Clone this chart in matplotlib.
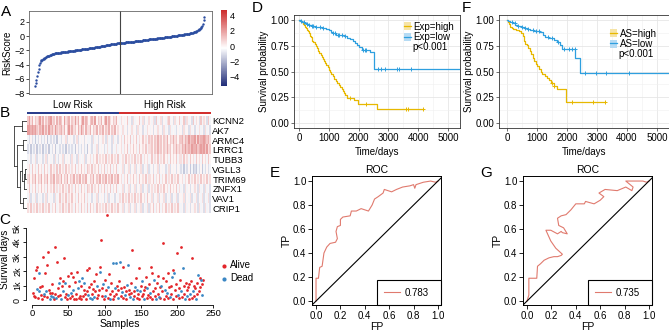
import numpy as np
import matplotlib
matplotlib.use("Agg")
import matplotlib.pyplot as plt
from matplotlib.colors import LinearSegmentedColormap, ListedColormap, Normalize
from matplotlib.cm import ScalarMappable
from matplotlib.lines import Line2D
from matplotlib.patches import Patch
from matplotlib.transforms import blended_transform_factory

plt.rcParams['font.family'] = ['Liberation Sans', 'DejaVu Sans']

W, H = 669, 332

# ---------------- data ----------------
# A: sorted risk score, one value per sample
risk_score = [
    -7.00, -6.55, -6.10, -5.55, -5.00, -4.55, -4.10, -3.80, -3.55, -3.38,
    -3.32, -3.25, -3.18, -3.11, -3.04, -2.97, -2.90, -2.85, -2.81, -2.77,
    -2.73, -2.69, -2.65, -2.61, -2.57, -2.53, -2.49, -2.45, -2.42, -2.40,
    -2.39, -2.37, -2.36, -2.35, -2.33, -2.32, -2.31, -2.29, -2.28, -2.27,
    -2.25, -2.24, -2.22, -2.21, -2.20, -2.19, -2.17, -2.16, -2.15, -2.13,
    -2.12, -2.10, -2.09, -2.07, -2.06, -2.04, -2.03, -2.01, -2.00, -1.98,
    -1.97, -1.95, -1.94, -1.92, -1.91, -1.90, -1.88, -1.87, -1.86, -1.84,
    -1.83, -1.81, -1.80, -1.78, -1.77, -1.75, -1.73, -1.72, -1.70, -1.69,
    -1.67, -1.66, -1.64, -1.63, -1.61, -1.59, -1.58, -1.56, -1.54, -1.52,
    -1.51, -1.49, -1.47, -1.45, -1.43, -1.42, -1.40, -1.38, -1.36, -1.34,
    -1.32, -1.30, -1.28, -1.26, -1.24, -1.22, -1.20, -1.18, -1.17, -1.15,
    -1.13, -1.11, -1.10, -1.08, -1.07, -1.05, -1.03, -1.02, -1.01, -1.00,
    -0.99, -0.98, -0.97, -0.96, -0.95, -0.94, -0.93, -0.92, -0.90, -0.89,
    -0.88, -0.87, -0.86, -0.85, -0.84, -0.83, -0.82, -0.81, -0.80, -0.79,
    -0.78, -0.76, -0.75, -0.74, -0.72, -0.71, -0.70, -0.68, -0.67, -0.66,
    -0.64, -0.63, -0.61, -0.60, -0.58, -0.57, -0.55, -0.54, -0.52, -0.51,
    -0.50, -0.48, -0.47, -0.46, -0.45, -0.43, -0.42, -0.41, -0.40, -0.38,
    -0.37, -0.36, -0.35, -0.33, -0.32, -0.31, -0.29, -0.28, -0.27, -0.25,
    -0.24, -0.23, -0.22, -0.20, -0.19, -0.18, -0.17, -0.15, -0.14, -0.12,
    -0.11, -0.09, -0.08, -0.06, -0.05, -0.03, -0.02, 0.00, 0.02, 0.03,
    0.05, 0.07, 0.08, 0.10, 0.12, 0.14, 0.15, 0.17, 0.18, 0.20,
    0.21, 0.23, 0.24, 0.26, 0.27, 0.29, 0.31, 0.33, 0.35, 0.37,
    0.40, 0.42, 0.45, 0.48, 0.51, 0.55, 0.58, 0.62, 0.67, 0.74,
    0.80, 0.87, 0.95, 1.02, 1.10, 1.25, 1.45, 1.75, 2.20, 2.60,
]

# B: expression levels, digit 5 = 0, higher = red, lower = blue
genes = ['KCNN2', 'AK7', 'ARMC4', 'LRRC1', 'TUBB3',
         'VGLL3', 'TRIM69', 'ZNFX1', 'VAV1', 'CRIP1']
heat_rows = [
    "79685767968576896758" "68759678576968579687" "57869576857968657685"
    "46545745364557463546" "54637456354674536457" "45736453746537465374",
    "99898976879686978697" "67868579686758697586" "68576857685768576856"
    "54645354645364535465" "45354645364536454354" "53645364535464536453",
    "43534243534352435342" "54354635453463545354" "45364535465364536453"
    "56475657465746575647" "67576867576857686757" "78687978896978898786",
    "34243524352435243524" "43534253434253435342" "54354635453464535464"
    "56465746575647565746" "67576867576867576867" "68797879889789897967",
    "45354635453463545364" "35463545364536454635" "56465746565746575647"
    "45647564657465746564" "57465746575647565746" "64756475647564756475",
    "56475647564756475647" "47564756465746575647" "65746574657465746574"
    "54635463546354635463" "45354635453463545354" "34243524232435243534",
    "67576857685768576857" "76857685768576857685" "57685768576857685768"
    "56465746575647565746" "65746574657465746574" "56465746575647565746",
    "57465746575647565746" "46575647564756475647" "65746574657465746574"
    "54635463546354635463" "56465746575647565746" "45364535465364536453",
    "46354635453463545364" "57465746575647565746" "45354635453463545354"
    "64756475647564756475" "46354635463546354635" "54635463546354635463",
    "65746574657465746574" "56475647564756475647" "47564756465746575647"
    "54635463546354635463" "65746574657465746574" "45364535465364536453",
]
# dendrogram merges: (child a, child b, height); leaves 0..9, new nodes 10..
merges = [(0, 1, 0.35), (2, 3, 0.30), (5, 6, 0.15), (12, 7, 0.25),
          (8, 9, 0.30), (4, 13, 0.40), (15, 14, 0.55), (11, 16, 0.75),
          (10, 17, 1.00)]

# C: survival days and status per sample (A = alive, D = dead)
surv_days = [
    460, 1500, 300, 200, 2080, 740, 2300, 150, 1900, 620, 880, 350, 100, 970, 3000, 420, 250, 1900, 600, 2430,
    180, 3360, 700, 90, 520, 300, 1100, 480, 220, 60, 3700, 400, 150, 2660, 800, 280, 1200, 330, 1500, 70,
    980, 600, 1300, 2900, 200, 1150, 450, 80, 1700, 350, 1000, 120, 1900, 520, 250, 1600, 700, 90, 1250, 420,
    60, 1970, 800, 150, 1350, 300, 1000, 60, 1500, 250, 700, 1200, 450, 100, 2100, 600, 320, 2200, 900, 150,
    1100, 400, 50, 750, 1300, 200, 600, 1800, 120, 950, 350, 700, 2300, 1970, 4170, 250, 800, 1100, 60, 1400,
    300, 700, 5900, 150, 900, 1800, 450, 100, 1200, 600, 50, 2550, 300, 850, 2550, 400, 1000, 150, 700, 1300,
    2660, 250, 800, 550, 120, 2300, 900, 350, 600, 80, 1050, 2430, 400, 700, 200, 1200, 500, 3470, 100, 650,
    300, 900, 1500, 150, 700, 450, 2200, 80, 600, 1000, 250, 1300, 400, 700, 50, 900, 1600, 150, 800, 350,
    1100, 200, 500, 2300, 1900, 100, 650, 1400, 300, 800, 60, 1200, 450, 1700, 220, 900, 150, 1000, 600, 1500,
    3940, 80, 700, 300, 1300, 500, 150, 1850, 900, 200, 1000, 400, 1600, 60, 2080, 1850, 700, 250, 1100, 3240,
    350, 800, 150, 1400, 600, 3700, 200, 2200, 1000, 450, 100, 1200, 700, 300, 900, 50, 1100, 400, 1300, 2900,
    150, 600, 1000, 250, 800, 100, 1200, 450, 1740, 650, 1500, 900, 1390, 1100, 350, 1400,
]
surv_status = (
    "AAAAADAADDAAAAADAADA" "AAADADAADAAADAAADAAD" "ADAAADAAADAAADAADAAA"
    "AADADAAADAADAAAADAAD" "AADAADAAADAAADAAADAA" "DAAADAADAAADADDAADAA"
    "DAADAAADAADDAADAAADA" "ADAADAAADAADAADAAADA" "AADAAAADAADAAADAADAA"
    "AADAADAAADAADAADAAAA" "DAAADAADAADAADAAADAA" "ADAAADAADAAADADA"
)

# D: Kaplan-Meier, expression groups
d_high_t = [0, 30, 80, 120, 170, 200, 240, 270, 300, 330, 360, 390, 420, 450, 480, 520, 560, 600,
            640, 680, 720, 760, 800, 840, 880, 920, 960, 1000, 1040, 1080, 1130, 1180, 1230, 1280,
            1330, 1380, 1430, 1470, 1510, 1550, 1600, 1830, 1990, 2630, 4150]
d_high_s = [1.0, 0.99, 0.98, 0.965, 0.95, 0.935, 0.92, 0.905, 0.89, 0.87, 0.85, 0.835, 0.82, 0.80,
            0.785, 0.765, 0.745, 0.725, 0.70, 0.68, 0.66, 0.64, 0.62, 0.60, 0.58, 0.56, 0.54, 0.515,
            0.495, 0.475, 0.455, 0.43, 0.41, 0.39, 0.37, 0.35, 0.33, 0.31, 0.29, 0.27, 0.245, 0.222,
            0.188, 0.139, 0.139]
d_high_cens = [1720, 2250, 3600, 3660, 4150]
d_low_t = [0, 50, 100, 180, 250, 330, 420, 520, 620, 760, 900, 1000, 1080, 1150, 1250, 1500, 1600,
           1700, 1800, 1880, 1950, 2020, 2100, 2380, 2520, 5350]
d_low_s = [1.0, 0.99, 0.98, 0.97, 0.96, 0.95, 0.94, 0.935, 0.93, 0.925, 0.91, 0.90, 0.885, 0.87,
           0.86, 0.85, 0.83, 0.815, 0.80, 0.78, 0.76, 0.74, 0.71, 0.69, 0.52, 0.52]
d_low_cens = [60, 150, 250, 330, 420, 480, 560, 700, 800, 1150, 1200, 1300, 1350, 1450, 1550,
              2150, 2200, 2250, 2650, 2750, 2900, 3300, 3350, 3750]

# F: Kaplan-Meier, AS groups
f_high_t = [0, 30, 60, 100, 150, 200, 300, 400, 480, 540, 560, 600, 650, 700, 760, 800, 850, 900,
            960, 1000, 1060, 1120, 1170, 1250, 1330, 1400, 1480, 1560, 1660, 1960, 3270]
f_high_s = [1.0, 0.98, 0.96, 0.935, 0.925, 0.915, 0.905, 0.89, 0.875, 0.85, 0.80, 0.77, 0.755,
            0.73, 0.70, 0.67, 0.63, 0.60, 0.57, 0.55, 0.52, 0.50, 0.48, 0.46, 0.44, 0.42, 0.39,
            0.36, 0.33, 0.20, 0.20]
f_high_cens = [1500, 1580, 2150, 2850, 3270]
f_low_t = [0, 40, 100, 200, 280, 350, 450, 550, 650, 750, 900, 1100, 1200, 1270, 1400, 1550, 1650,
           1750, 1820, 2280, 2430, 5350]
f_low_s = [1.0, 0.99, 0.98, 0.97, 0.955, 0.945, 0.935, 0.925, 0.915, 0.905, 0.895, 0.885, 0.86,
           0.84, 0.83, 0.81, 0.79, 0.76, 0.72, 0.63, 0.485, 0.485]
f_low_cens = [150, 250, 350, 500, 600, 700, 850, 950, 1050, 1350, 1500, 1700, 1900, 2050, 2150,
              2250, 2600, 2950, 3300, 4050]

# E / G: ROC curves
e_fp = [0.0, 0.0, 0.02, 0.03, 0.05, 0.065, 0.088, 0.115, 0.16, 0.175, 0.164, 0.175, 0.20, 0.20,
        0.22, 0.28, 0.29, 0.33, 0.37, 0.43, 0.46, 0.48, 0.51, 0.55, 0.56, 0.62, 0.66, 0.71, 0.77,
        0.80, 0.81, 0.82, 0.88, 0.94, 0.98, 1.0]
e_tp = [0.0, 0.19, 0.19, 0.28, 0.29, 0.40, 0.45, 0.48, 0.49, 0.52, 0.58, 0.62, 0.63, 0.68, 0.70,
        0.71, 0.75, 0.75, 0.77, 0.75, 0.80, 0.85, 0.87, 0.90, 0.93, 0.91, 0.93, 0.95, 0.96, 0.97,
        0.94, 0.97, 0.99, 1.0, 0.99, 1.0]
e_auc = 0.783
g_fp = [0.0, 0.015, 0.015, 0.04, 0.08, 0.086, 0.11, 0.14, 0.18, 0.22, 0.25, 0.28, 0.29, 0.236,
        0.195, 0.155, 0.195, 0.25, 0.28, 0.29, 0.33, 0.30, 0.26, 0.25, 0.28, 0.32, 0.36, 0.40,
        0.47, 0.48, 0.55, 0.60, 0.63, 0.59, 0.64, 0.74, 0.81, 0.86, 0.87, 0.81, 0.86, 0.95,
        0.98, 1.0]
g_tp = [0.0, 0.05, 0.19, 0.19, 0.19, 0.29, 0.31, 0.34, 0.36, 0.37, 0.37, 0.38, 0.39, 0.44, 0.50,
        0.59, 0.59, 0.56, 0.58, 0.57, 0.56, 0.61, 0.63, 0.69, 0.71, 0.72, 0.76, 0.81, 0.81, 0.83,
        0.81, 0.84, 0.87, 0.90, 0.93, 0.92, 0.95, 0.92, 0.95, 1.0, 1.0, 1.0, 0.99, 1.0]
g_auc = 0.735


# ---------------- helpers ----------------
def box(l, t, r, b):
    return [l / W, 1 - b / H, (r - l) / W, (b - t) / H]


def letter(x, y, s):
    fig.text(x / W, 1 - y / H, s, fontsize=11, ha='center', va='center')


heat_cmap = LinearSegmentedColormap.from_list('bwr_r', ['#1F2C78', '#FFFFFF', '#CC2A2A'])
heat_norm = Normalize(vmin=-5.2, vmax=4.7)
RED, BLUE = '#E3262B', '#3B87C4'
YEL, SKY = '#E7B800', '#2E9FDF'

fig = plt.figure(figsize=(W / 100, H / 100), dpi=100)

# ---------------- A: risk score ----------------
risk = np.array(risk_score)
samples = np.arange(1, len(risk) + 1)
n_low = int(np.sum(risk <= np.median(risk)))
ax = fig.add_axes(box(29, 11, 212, 94))
ax.scatter(samples, risk, s=3, color='#2B4DA0', lw=0)
ax.axvline(n_low + 0.5, color='#444444', lw=0.8)
ax.set_xlim(-7.5, 251)
ax.set_ylim(-8.1, 3.5)
ax.set_xticks([])
ax.set_yticks([-8, -6, -4, -2, 0, 2])
ax.tick_params(axis='y', labelsize=6.5, length=2, pad=1, width=0.5)
ax.set_ylabel('RiskScore', fontsize=7)
ax.yaxis.set_label_coords(-0.093, 0.5)
for sp in ax.spines.values():
    sp.set_color('#666666')
    sp.set_linewidth(0.6)
letter(6, 12, 'A')

cax = fig.add_axes(box(221, 10, 227, 86))
cb = fig.colorbar(ScalarMappable(norm=heat_norm, cmap=heat_cmap), cax=cax, ticks=[-4, -2, 0, 2, 4])
cb.outline.set_visible(False)
cax.tick_params(labelsize=6.5, length=0, pad=2)

# ---------------- B: heatmap ----------------
width = min(len(r) for r in heat_rows)
levels = np.array([[int(c) for c in r[:width]] for r in heat_rows])
expr = (levels - 5) * 0.5

axh = fig.add_axes(box(27, 116, 211, 213))
axh.imshow(expr, aspect='auto', cmap=heat_cmap, norm=heat_norm, interpolation='nearest')
axh.set_xticks([])
axh.yaxis.tick_right()
axh.set_yticks(range(len(genes)))
axh.set_yticklabels(genes, fontsize=6.8)
axh.tick_params(axis='y', length=0, pad=1)
for sp in axh.spines.values():
    sp.set_visible(False)

groups = (risk > np.median(risk)).astype(int)
axb = fig.add_axes(box(27, 111.8, 211, 114.3))
axb.imshow(groups[None, :], aspect='auto', interpolation='nearest',
           cmap=ListedColormap(['#2B3E8C', '#D3302F']))
axb.axis('off')
trb = blended_transform_factory(axb.transData, axb.transAxes)
for g, lab in [(0, 'Low Risk'), (1, 'High Risk')]:
    cx = np.mean(np.where(groups == g)[0])
    axb.text(cx, 1.6, lab, transform=trb, ha='center', va='bottom', fontsize=7)

# dendrogram
axd = fig.add_axes(box(13, 116, 27, 213))
pos = {i: (float(i), 0.0) for i in range(len(genes))}
for k, (a, b, h) in enumerate(merges):
    ya, ha = pos[a]
    yb, hb = pos[b]
    axd.plot([ha, h], [ya, ya], color='#333333', lw=0.6)
    axd.plot([hb, h], [yb, yb], color='#333333', lw=0.6)
    axd.plot([h, h], [ya, yb], color='#333333', lw=0.6)
    pos[len(genes) + k] = ((ya + yb) / 2, h)
axd.set_ylim(len(genes) - 0.5, -0.5)
axd.set_xlim(1.05, 0)
axd.axis('off')
letter(5, 113, 'B')

# ---------------- C: survival scatter ----------------
days = np.array(surv_days)
stat = np.array(list(surv_status))
idx = np.arange(1, len(days) + 1)
axc = fig.add_axes(box(26, 213, 213.7, 305))
for code, col, lab in [('A', RED, 'Alive'), ('D', BLUE, 'Dead')]:
    m = stat == code
    axc.scatter(idx[m], days[m], s=4, color=col, lw=0, label=lab, clip_on=False)
axc.set_xlim(-8.5, 250.5)
axc.set_ylim(-347, 6040)
for s in ['top', 'right']:
    axc.spines[s].set_visible(False)
axc.spines['left'].set_bounds(0, 5000)
axc.spines['bottom'].set_bounds(0, 250)
for s in ['left', 'bottom']:
    axc.spines[s].set_linewidth(0.6)
axc.set_xticks([0, 50, 100, 150, 200, 250])
axc.set_yticks([0, 1000, 2000, 3000, 4000, 5000])
axc.set_yticklabels(['0', '1k', '2k', '3k', '4k', '5k'], rotation=90, va='center')
axc.tick_params(axis='x', labelsize=6.8, length=2, width=0.6, pad=0.8)
axc.tick_params(axis='y', labelsize=6.5, length=2, width=0.6, pad=0.8)
axc.set_xlabel('Samples', fontsize=7.5, labelpad=1)
axc.set_ylabel('Survival days', fontsize=7.2)
axc.yaxis.set_label_coords(-0.083, 0.5)
axc.legend(loc='center left', bbox_to_anchor=(1.02, 0.36), frameon=False, fontsize=7,
           handlelength=0.6, handletextpad=0.3, borderaxespad=0, labelspacing=0.3,
           markerscale=1.5)
letter(5, 220, 'C')


# ---------------- D / F: Kaplan-Meier ----------------
def km_panel(rect, xlim, curves, labels, leg_x, leg_y, p_xy):
    ax = fig.add_axes(box(*rect))
    handles = []
    for (t, s, cens, col, pale) in curves:
        t = np.array(t)
        s = np.array(s)
        ax.step(t, s, where='post', color=col, lw=0.9)
        ci = np.searchsorted(t, cens, side='right') - 1
        ax.plot(cens, s[ci], '+', color=col, ms=3.5, mew=0.7)
        handles.append((Patch(facecolor=pale, edgecolor='none'), Line2D([], [], color=col, lw=0.9)))
    ax.set_xlim(*xlim)
    ax.set_ylim(-0.05, 1.05)
    ax.set_xticks([0, 1000, 2000, 3000, 4000, 5000])
    ax.set_xticks([500, 1500, 2500, 3500, 4500], minor=True)
    ax.set_yticks([0, 0.25, 0.5, 0.75, 1.0])
    ax.set_yticklabels(['0.00', '0.25', '0.50', '0.75', '1.00'])
    ax.set_yticks([0.125, 0.375, 0.625, 0.875], minor=True)
    ax.grid(which='major', color='#E6E6E6', lw=0.6)
    ax.grid(which='minor', color='#F0F0F0', lw=0.4)
    ax.set_axisbelow(True)
    ax.tick_params(which='minor', length=0)
    ax.tick_params(which='major', labelsize=7, length=2, width=0.5, pad=1.5, color='#333333')
    for sp in ax.spines.values():
        sp.set_color('#333333')
        sp.set_linewidth(0.6)
    ax.set_ylabel('Survival probability', fontsize=7, labelpad=1)
    ax.set_xlabel('Time/days', fontsize=7, labelpad=3)
    ax.legend(handles, labels, loc='upper left', bbox_to_anchor=(leg_x, leg_y), frameon=False,
              fontsize=7, handlelength=0.7, handleheight=0.9, handletextpad=0.25,
              labelspacing=0.05, borderaxespad=0, borderpad=0)
    ax.text(p_xy[0], p_xy[1], 'p<0.001', transform=ax.transAxes, fontsize=7,
            ha='left', va='center')
    return ax


km_panel((294, 15, 460, 128), (-170, 5400),
         [(d_high_t, d_high_s, d_high_cens, YEL, '#F6E4A6'),
          (d_low_t, d_low_s, d_low_cens, SKY, '#B5DBF4')],
         ['Exp=high', 'Exp=low'], 0.665, 0.94, (0.715, 0.72))
letter(257, 8, 'D')

km_panel((499, 15, 669, 128), (-267, 5400),
         [(f_high_t, f_high_s, f_high_cens, YEL, '#F6E4A6'),
          (f_low_t, f_low_s, f_low_cens, SKY, '#B5DBF4')],
         ['AS=high', 'AS=low'], 0.655, 0.88, (0.705, 0.655))
letter(466, 8, 'F')


# ---------------- E / G: ROC ----------------
def roc_panel(rect, fp, tp, auc):
    ax = fig.add_axes(box(*rect))
    line, = ax.plot(fp, tp, color='#E07A6E', lw=0.8)
    ax.axline((0, 0), slope=1, color='black', lw=0.8)
    ax.set_xlim(-0.033, 1.025)
    ax.set_ylim(-0.033, 1.042)
    ticks = [0, 0.2, 0.4, 0.6, 0.8, 1.0]
    ax.set_xticks(ticks)
    ax.set_yticks(ticks)
    ax.set_xticklabels([f'{v:.1f}' for v in ticks])
    ax.set_yticklabels([f'{v:.1f}' for v in ticks])
    ax.tick_params(labelsize=7, length=3, width=0.6, pad=1)
    for sp in ax.spines.values():
        sp.set_linewidth(0.7)
    ax.set_title('ROC', fontsize=7.5, pad=2)
    ax.set_xlabel('FP', fontsize=7.5, labelpad=1)
    ax.set_ylabel('TP', fontsize=7.5, labelpad=1)
    leg = ax.legend([line], [f'{auc:.3f}'], loc='lower left', bbox_to_anchor=(0.503, 0, 0.497, 0.2),
                    mode='expand', borderaxespad=0, fancybox=False, edgecolor='black',
                    framealpha=1, fontsize=7, handlelength=1.6, borderpad=0.75,
                    handletextpad=0.5)
    leg.get_frame().set_linewidth(0.8)
    return ax


roc_panel((312, 176, 441, 305), e_fp, e_tp, e_auc)
letter(275, 173, 'E')
roc_panel((523, 176, 652, 305), g_fp, g_tp, g_auc)
letter(486, 173, 'G')

fig.savefig('out.png', dpi=100)
